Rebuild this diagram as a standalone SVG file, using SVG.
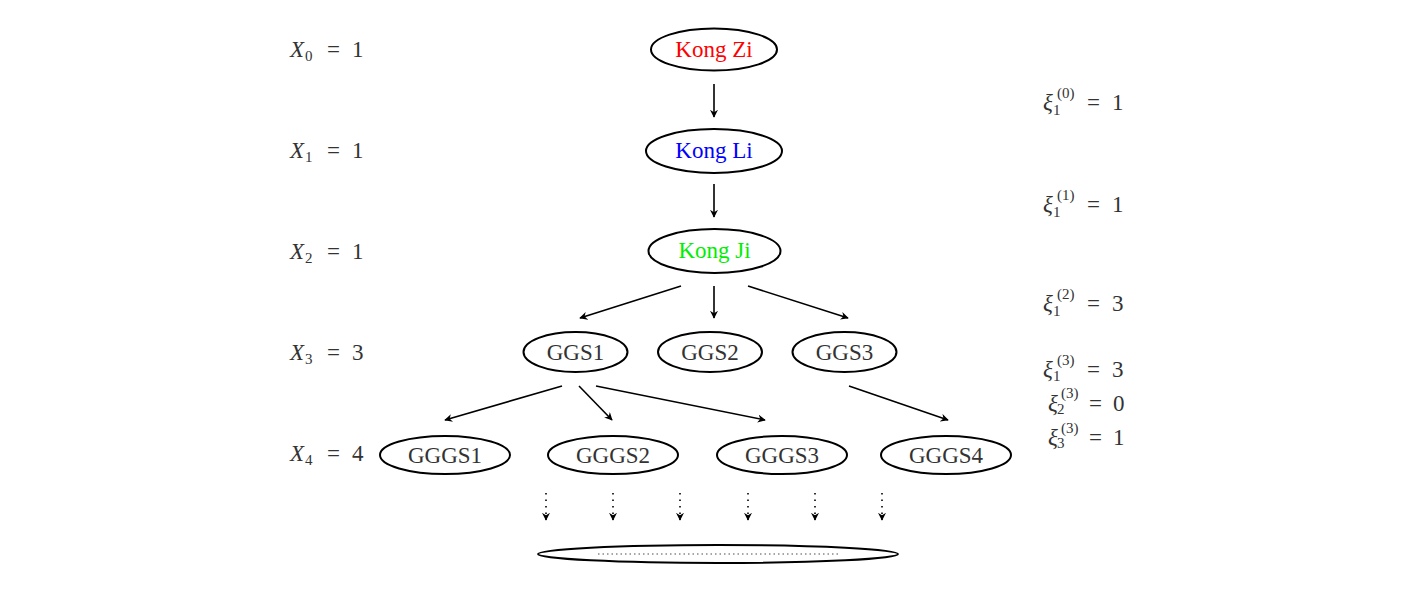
<svg xmlns="http://www.w3.org/2000/svg" width="1415" height="596" viewBox="0 0 1415 596">
<style>
text{font-family:"Liberation Serif","DejaVu Serif",serif;font-size:23px;fill:#333}
.n{fill:none;stroke:#000;stroke-width:2}
.c{stroke:#000;stroke-width:1.6;fill:none}
.d{stroke:#000;stroke-width:1.6;fill:none;stroke-dasharray:1.5 5}
.lab{text-anchor:middle}
.sub{font-size:15px}
.it{font-style:italic}
</style>
<defs>
<marker id="ah" viewBox="0 0 10 10" refX="9" refY="5" markerWidth="8" markerHeight="8" markerUnits="userSpaceOnUse" orient="auto">
<path d="M0,0 L10,5 L0,10 L3,5 Z" fill="#000"/>
</marker>
</defs>
<rect width="1415" height="596" fill="#fff"/>
<g id="levels">
<text y="57"><tspan class="it" x="290">X</tspan><tspan class="sub" x="305" dy="4">0</tspan><tspan x="327" dy="-4">=</tspan><tspan x="352">1</tspan></text>
<text y="158"><tspan class="it" x="290">X</tspan><tspan class="sub" x="305" dy="4">1</tspan><tspan x="327" dy="-4">=</tspan><tspan x="352">1</tspan></text>
<text y="259"><tspan class="it" x="290">X</tspan><tspan class="sub" x="305" dy="4">2</tspan><tspan x="327" dy="-4">=</tspan><tspan x="352">1</tspan></text>
<text y="360"><tspan class="it" x="290">X</tspan><tspan class="sub" x="305" dy="4">3</tspan><tspan x="327" dy="-4">=</tspan><tspan x="352">3</tspan></text>
<text y="461"><tspan class="it" x="290">X</tspan><tspan class="sub" x="305" dy="4">4</tspan><tspan x="327" dy="-4">=</tspan><tspan x="352">4</tspan></text>
</g>
<g id="xi">
<text y="110"><tspan class="it" x="1043">ξ</tspan><tspan class="sub" x="1053" dy="5">1</tspan><tspan class="sub" x="1057" dy="-17">(0)</tspan><tspan x="1087" dy="12">=</tspan><tspan x="1112">1</tspan></text>
<text y="212"><tspan class="it" x="1043">ξ</tspan><tspan class="sub" x="1053" dy="5">1</tspan><tspan class="sub" x="1057" dy="-17">(1)</tspan><tspan x="1087" dy="12">=</tspan><tspan x="1112">1</tspan></text>
<text y="311"><tspan class="it" x="1043">ξ</tspan><tspan class="sub" x="1053" dy="5">1</tspan><tspan class="sub" x="1057" dy="-17">(2)</tspan><tspan x="1087" dy="12">=</tspan><tspan x="1112">3</tspan></text>
<text y="377"><tspan class="it" x="1043">ξ</tspan><tspan class="sub" x="1053" dy="4">1</tspan><tspan class="sub" x="1057" dy="-16">(3)</tspan><tspan x="1087" dy="12">=</tspan><tspan x="1112">3</tspan></text>
<text y="411"><tspan class="it" x="1048">ξ</tspan><tspan class="sub" x="1057" dy="3">2</tspan><tspan class="sub" x="1061" dy="-16">(3)</tspan><tspan x="1089" dy="13">=</tspan><tspan x="1113">0</tspan></text>
<text y="445"><tspan class="it" x="1048">ξ</tspan><tspan class="sub" x="1057" dy="3">3</tspan><tspan class="sub" x="1061" dy="-15">(3)</tspan><tspan x="1089" dy="12">=</tspan><tspan x="1113">1</tspan></text>
</g>
<g id="kongzi"><ellipse class="n" cx="714" cy="49.5" rx="63" ry="21"/><text class="lab" x="714" y="57" style="fill:#ff0000">Kong Zi</text></g>
<g id="kongli"><ellipse class="n" cx="714" cy="151" rx="68" ry="22"/><text class="lab" x="714" y="158" style="fill:#0000ff">Kong Li</text></g>
<g id="kongji"><ellipse class="n" cx="714.5" cy="251" rx="66" ry="22"/><text class="lab" x="714.5" y="258" style="fill:#00ee00">Kong Ji</text></g>
<g id="ggs1"><ellipse class="n" cx="575.5" cy="352" rx="52" ry="20"/><text class="lab" x="575.5" y="360">GGS1</text></g>
<g id="ggs2"><ellipse class="n" cx="710" cy="352" rx="52" ry="20"/><text class="lab" x="710" y="360">GGS2</text></g>
<g id="ggs3"><ellipse class="n" cx="844.5" cy="352" rx="52" ry="20"/><text class="lab" x="844.5" y="360">GGS3</text></g>
<g id="gggs1"><ellipse class="n" cx="445" cy="455" rx="65" ry="19"/><text class="lab" x="445" y="463">GGGS1</text></g>
<g id="gggs2"><ellipse class="n" cx="613" cy="455" rx="65" ry="19"/><text class="lab" x="613" y="463">GGGS2</text></g>
<g id="gggs3"><ellipse class="n" cx="782" cy="455" rx="65" ry="19"/><text class="lab" x="782" y="463">GGGS3</text></g>
<g id="gggs4"><ellipse class="n" cx="946" cy="455" rx="65" ry="19"/><text class="lab" x="946" y="463">GGGS4</text></g>
<g id="bottom"><ellipse class="n" cx="718" cy="554" rx="180" ry="9"/><line x1="598" y1="554" x2="840" y2="554" stroke="#888" stroke-width="1.5" stroke-dasharray="1.5 3"/></g>
<g id="connectors">
<line class="c" x1="714" y1="84" x2="714" y2="117" marker-end="url(#ah)"/>
<line class="c" x1="714" y1="184" x2="714" y2="217" marker-end="url(#ah)"/>
<line class="c" x1="681" y1="286" x2="580" y2="318" marker-end="url(#ah)"/>
<line class="c" x1="714" y1="286" x2="714" y2="318" marker-end="url(#ah)"/>
<line class="c" x1="748" y1="286" x2="848" y2="318" marker-end="url(#ah)"/>
<line class="c" x1="562" y1="386" x2="445" y2="420" marker-end="url(#ah)"/>
<line class="c" x1="579" y1="386" x2="612" y2="420" marker-end="url(#ah)"/>
<line class="c" x1="596" y1="386" x2="765" y2="420" marker-end="url(#ah)"/>
<line class="c" x1="849" y1="386" x2="948" y2="420" marker-end="url(#ah)"/>
<line class="d" x1="546" y1="493" x2="546" y2="520" marker-end="url(#ah)"/>
<line class="d" x1="613" y1="493" x2="613" y2="520" marker-end="url(#ah)"/>
<line class="d" x1="680" y1="493" x2="680" y2="520" marker-end="url(#ah)"/>
<line class="d" x1="748" y1="493" x2="748" y2="520" marker-end="url(#ah)"/>
<line class="d" x1="815" y1="493" x2="815" y2="520" marker-end="url(#ah)"/>
<line class="d" x1="882" y1="493" x2="882" y2="520" marker-end="url(#ah)"/>
</g>
</svg>
